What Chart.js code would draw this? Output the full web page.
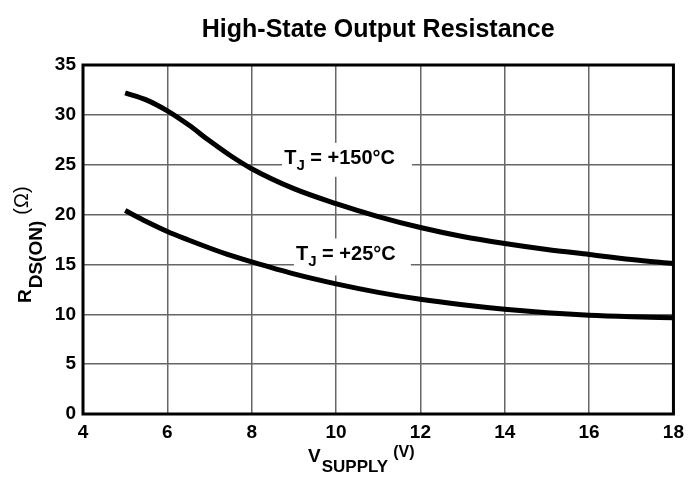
<!DOCTYPE html>
<html>
<head>
<meta charset="utf-8">
<script src="https://cdn.jsdelivr.net/npm/chart.js@4"></script>
<style>
  html, body { margin: 0; padding: 0; background: #fff; }
  #wrap { width: 691px; height: 477px; position: relative; }
</style>
</head>
<body>
<div id="wrap"><canvas id="chart"></canvas></div>
<script>
// data
const supplyVolts = [5, 5.5, 6, 6.5, 7, 7.5, 8, 9, 10, 11, 12, 13, 14, 15, 16, 17, 18];
const rdsHot = [32.2, 31.5, 30.4, 29.0, 27.4, 25.9, 24.6, 22.6, 21.1, 19.8, 18.7, 17.8, 17.1, 16.5, 16.0, 15.5, 15.1];
const rdsRoom = [20.4, 19.3, 18.3, 17.45, 16.65, 15.9, 15.25, 14.05, 13.05, 12.2, 11.5, 10.95, 10.5, 10.15, 9.9, 9.75, 9.65];
const seriesNames = ['+150°C', '+25°C'];
const xTicks = [4, 6, 8, 10, 12, 14, 16, 18];
const yTicks = [0, 5, 10, 15, 20, 25, 30, 35];

const FONT = "'Liberation Sans', Arial, sans-serif";

const toPoints = (ys) => supplyVolts.map((x, i) => ({ x, y: ys[i] }));

// draws the frame, title, axis titles with sub/superscripts and the curve labels
const decorations = {
  id: 'decorations',
  beforeDatasetsDraw(chart) {
    const { ctx, scales: { x, y } } = chart;
    // white boxes masking the grid behind the labels
    ctx.save();
    ctx.fillStyle = '#fff';
    ctx.fillRect(x.getPixelForValue(8.72), y.getPixelForValue(27.2), 130, 34);
    ctx.fillRect(x.getPixelForValue(9.0), y.getPixelForValue(17.6), 117, 37);
    ctx.restore();
  },
  afterDraw(chart) {
    const { ctx, chartArea: a, scales: { x, y } } = chart;
    ctx.save();
    ctx.strokeStyle = '#000';
    ctx.lineWidth = 3;
    ctx.strokeRect(a.left, a.top, a.right - a.left, a.bottom - a.top);

    ctx.fillStyle = '#000';
    ctx.textBaseline = 'alphabetic';
    // title
    ctx.font = 'bold 25px ' + FONT;
    ctx.textAlign = 'center';
    ctx.fillText('High-State Output Resistance', (a.left + a.right) / 2, 37);

    // curve labels
    const label = (sub, text, px, py) => {
      ctx.textAlign = 'left';
      ctx.font = 'bold 20px ' + FONT;
      ctx.fillText('T', px, py);
      let cx = px + ctx.measureText('T').width;
      ctx.font = 'bold 15px ' + FONT;
      ctx.fillText(sub, cx, py + 6);
      cx += ctx.measureText(sub).width;
      ctx.font = 'bold 20px ' + FONT;
      ctx.fillText(text, cx, py);
    };
    label('J', ' = ' + seriesNames[0], x.getPixelForValue(8.77), y.getPixelForValue(25.1));
    label('J', ' = ' + seriesNames[1], x.getPixelForValue(9.05), y.getPixelForValue(15.4));

    // x axis title
    ctx.textAlign = 'left';
    ctx.font = 'bold 19px ' + FONT;
    ctx.fillText('V', 308, 462);
    let cx = 308 + ctx.measureText('V').width + 1;
    ctx.font = 'bold 17px ' + FONT;
    ctx.fillText('SUPPLY', cx, 472);
    cx += ctx.measureText('SUPPLY').width + 5;
    ctx.font = 'bold 16px ' + FONT;
    ctx.fillText('(V)', cx, 457);

    // y axis title, rotated
    ctx.translate(31, 0);
    ctx.rotate(-Math.PI / 2);
    const yx = -303;
    ctx.font = 'bold 19px ' + FONT;
    ctx.fillText('R', yx, 0);
    cx = yx + ctx.measureText('R').width + 1;
    ctx.font = 'bold 19px ' + FONT;
    ctx.fillText('DS(ON)', cx, 11);
    cx += ctx.measureText('DS(ON)').width + 6;
    ctx.font = '20px ' + FONT;
    ctx.fillText('(Ω)', cx, -3);
    ctx.restore();
  }
};

new Chart(document.getElementById('chart'), {
  type: 'line',
  data: {
    datasets: [
      { label: seriesNames[0], data: toPoints(rdsHot) },
      { label: seriesNames[1], data: toPoints(rdsRoom) }
    ].map(d => ({ ...d, borderColor: '#000', borderWidth: 5, pointRadius: 0, cubicInterpolationMode: 'monotone', fill: false }))
  },
  options: {
    responsive: true,
    maintainAspectRatio: false,
    animation: false,
    layout: { padding: { top: 65, right: 14, left: 0, bottom: 0 } },
    plugins: { legend: { display: false }, title: { display: false }, tooltip: { enabled: false } },
    scales: {
      x: {
        type: 'linear', min: 4, max: 18,
        afterBuildTicks: (s) => { s.ticks = xTicks.map(v => ({ value: v })); },
        afterFit: (s) => { s.height = 63; },
        grid: { color: '#666', lineWidth: 1.5, drawTicks: false },
        border: { display: false },
        ticks: { color: '#000', padding: 7, font: { family: FONT, size: 19, weight: 'bold' } }
      },
      y: {
        min: 0, max: 35,
        afterBuildTicks: (s) => { s.ticks = yTicks.map(v => ({ value: v })); },
        afterFit: (s) => { s.width = 83; },
        grid: { color: '#666', lineWidth: 1.5, drawTicks: false },
        border: { display: false },
        ticks: { color: '#000', padding: 7, font: { family: FONT, size: 19, weight: 'bold' } }
      }
    }
  },
  plugins: [decorations]
});
</script>
</body>
</html>
